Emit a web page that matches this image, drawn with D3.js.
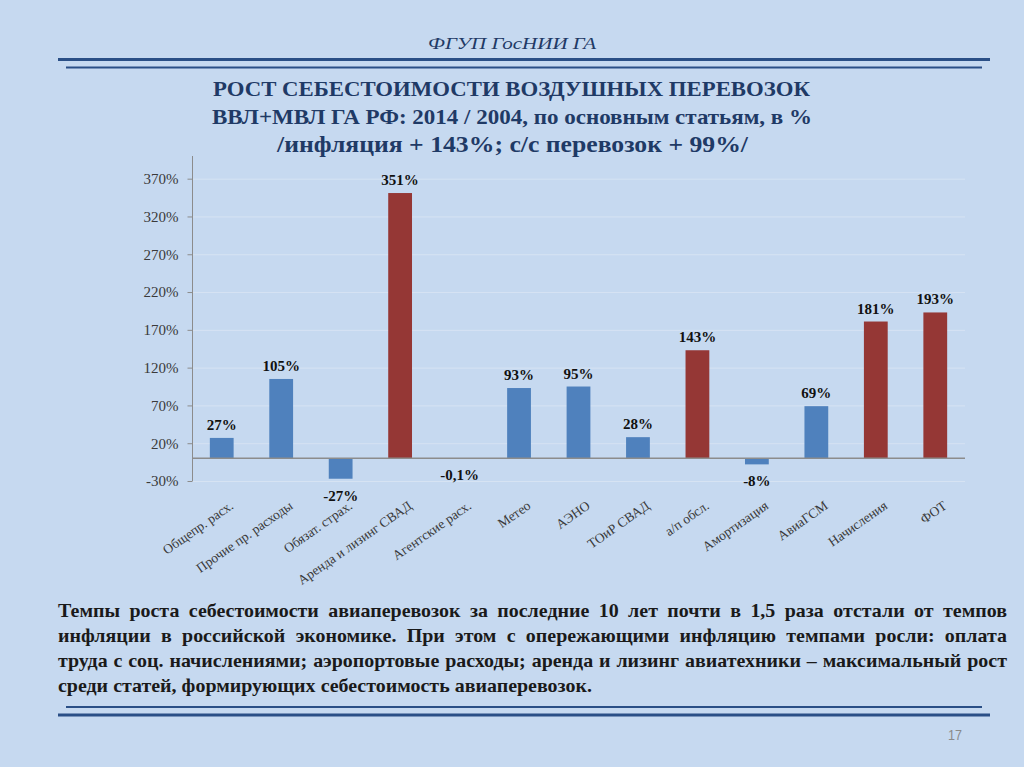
<!DOCTYPE html>
<html><head><meta charset="utf-8">
<script src="https://cdn.jsdelivr.net/npm/d3@7"></script>
<style>
html,body{margin:0;padding:0;background:#c6d9f0;}
svg{display:block;}
</style></head>
<body>
<svg id="c" width="1024" height="767"></svg>
<script>
// ---- data ----
const categories = ["Общепр. расх.", "Прочие пр. расходы", "Обязат. страх.", "Аренда и лизинг СВАД",
  "Агентские расх.", "Метео", "АЭНО", "ТОиР СВАД", "а/п обсл.", "Амортизация", "АвиаГСМ", "Начисления", "ФОТ"];
const values = [27, 105, -27, 351, -0.1, 93, 95, 28, 143, -8, 69, 181, 193];
const aboveInflation = [false, false, false, true, false, false, false, false, true, false, false, true, true];
const yTicks = [-30, 20, 70, 120, 170, 220, 270, 320, 370];
const yDomain = [-30, 400];
const headerText = "ФГУП ГосНИИ ГА";
const titleLines = ["РОСТ СЕБЕСТОИМОСТИ ВОЗДУШНЫХ ПЕРЕВОЗОК",
  "ВВЛ+МВЛ ГА РФ:  2014 / 2004, по основным статьям, в %",
  "/инфляция + 143%; с/с перевозок + 99%/"];
const paragraphLines = [
  "Темпы роста себестоимости авиаперевозок за последние 10 лет почти в 1,5 раза отстали от темпов",
  "инфляции в российской экономике. При этом с опережающими инфляцию темпами  росли: оплата",
  "труда с соц. начислениями; аэропортовые расходы; аренда и лизинг авиатехники – максимальный рост",
  "среди статей, формирующих себестоимость авиаперевозок."];
const pageNumber = "17";

// ---- drawing ----
const svg = d3.select("#c");
const serif = "'Liberation Serif','Times New Roman',serif";
const navy = "#1f3a66";
svg.append("rect").attr("width",1024).attr("height",767).attr("fill","#c6d9f0");

// header
svg.append("text").attr("x",512).attr("y",49).attr("text-anchor","middle")
  .attr("font-family",serif).attr("font-style","italic").attr("font-size",17)
  .attr("fill",navy).attr("textLength",168).attr("lengthAdjust","spacingAndGlyphs").text(headerText);

// rules
const rule = (y, x1, x2, w) => svg.append("line").attr("x1",x1).attr("x2",x2).attr("y1",y).attr("y2",y)
  .attr("stroke","#2a4f86").attr("stroke-width",w);
rule(59.5, 58, 990, 3.2); rule(67.5, 66, 982, 2);
rule(707, 66, 982, 2); rule(715, 58, 990, 3.2);

// title
const titleSpec = [{y:96, fs:22, x1:213, x2:810}, {y:124, fs:21, x1:212, x2:812}, {y:152, fs:24, x1:277, x2:748}];
titleLines.forEach((t,i) => {
  const s = titleSpec[i];
  svg.append("text").attr("x",s.x1).attr("y",s.y).attr("font-family",serif).attr("font-weight","bold")
    .attr("font-size",s.fs).attr("fill",navy).attr("textLength",s.x2-s.x1)
    .attr("lengthAdjust","spacingAndGlyphs").text(t);
});

// chart
const x = d3.scaleBand().domain(categories).range([192, 965]).paddingInner(0.6).paddingOuter(0.3);
const y = d3.scaleLinear().domain(yDomain).range([481, 156]);

const gGrid = svg.append("g");
gGrid.selectAll("line").data(yTicks).join("line")
  .attr("x1",192).attr("x2",965).attr("y1",d=>y(d)+0.5).attr("y2",d=>y(d)+0.5)
  .attr("stroke","#d6e3f3").attr("stroke-width",1);

const yAxis = d3.axisLeft(y).tickValues(yTicks).tickSize(5).tickPadding(9).tickFormat(d => d + "%");
const gy = svg.append("g").attr("transform","translate(192.5,0)").call(yAxis);
gy.select(".domain").attr("stroke","#8c8c8c").attr("d","M0,156V481");
gy.selectAll(".tick line").attr("stroke","#8c8c8c");
gy.selectAll(".tick text").attr("font-family",serif).attr("font-size",15).attr("fill","#3a3a3a");

svg.append("g").selectAll("rect").data(values).join("rect")
  .attr("x",(d,i)=>x(categories[i])).attr("width",x.bandwidth())
  .attr("y",d=>y(Math.max(0,d))).attr("height",d=>Math.max(0.5, Math.abs(y(d)-y(0))))
  .attr("fill",(d,i)=>aboveInflation[i] ? "#953735" : "#4f81bd");

// zero line
svg.append("line").attr("x1",192).attr("x2",965).attr("y1",y(0)).attr("y2",y(0))
  .attr("stroke","#8c8c8c").attr("stroke-width",1.5);

const fmt = v => (Number.isInteger(v) ? String(v) : String(v).replace(".", ",")) + "%";
svg.append("g").selectAll("text").data(values).join("text")
  .attr("x",(d,i)=>x(categories[i]) + x.bandwidth()/2)
  .attr("y",d => d >= 0 ? y(d) - 8 : Math.max(y(d), y(0)) + 22)
  .attr("text-anchor","middle").attr("font-family",serif).attr("font-weight","bold")
  .attr("font-size",15).attr("fill","#111").text(fmt);

svg.append("g").selectAll("text").data(categories).join("text")
  .attr("transform",d=>`translate(${x(d)+x.bandwidth()/2+10},504) rotate(-35)`)
  .attr("text-anchor","end").attr("dominant-baseline","central")
  .attr("font-family",serif).attr("font-size",13.5).attr("fill","#3a3a3a").text(d=>d);

// paragraph
const gp = svg.append("g").attr("font-family",serif).attr("font-weight","bold").attr("font-size",19).attr("fill","#1a1a1a");
const pX0 = 58, pX1 = 1007, lastEnd = 592, pYs = [617, 642, 667, 692];
const measure = gp.append("text");
const lineWords = paragraphLines.map(l => l.split(/\s+/));
const lineWidths = lineWords.map(ws => ws.map(w => { measure.text(w); return measure.node().getComputedTextLength(); }));
measure.remove();
const sp = 4.75;
const nat4 = d3.sum(lineWidths[3]) + sp*(lineWidths[3].length-1);
let scale = (lastEnd - pX0) / nat4;
lineWidths.slice(0,3).forEach(ws => {
  const nat = d3.sum(ws) + 2.5*(ws.length-1);
  scale = Math.min(scale, (pX1-pX0)/nat);
});
lineWords.forEach((ws,li) => {
  const wd = lineWidths[li];
  const justify = li < 3;
  const gap = justify ? ((pX1-pX0)/scale - d3.sum(wd)) / (ws.length-1) : sp;
  const gl = gp.append("g").attr("transform",`translate(${pX0},${pYs[li]}) scale(${scale},1)`);
  let cx = 0;
  ws.forEach((w,wi) => { gl.append("text").attr("x",cx).attr("y",0).text(w); cx += wd[wi] + gap; });
});

// page number
svg.append("text").attr("x",948).attr("y",740).attr("font-family","'Liberation Sans',sans-serif")
  .attr("font-size",14).attr("fill","#8a8a8a").attr("textLength",14).attr("lengthAdjust","spacingAndGlyphs").text(pageNumber);
</script>
</body></html>
